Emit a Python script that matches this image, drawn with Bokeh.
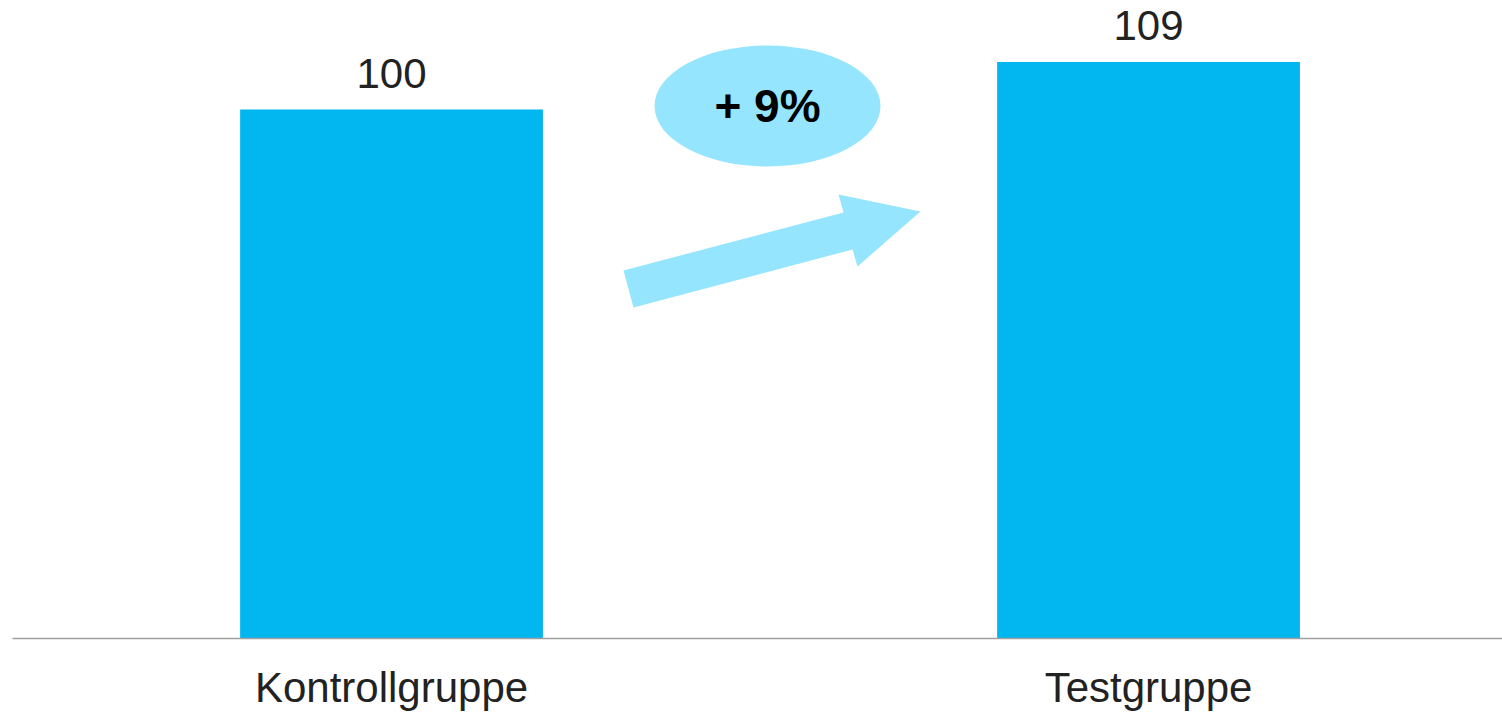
from bokeh.plotting import figure
from bokeh.models import Range1d, FixedTicker, ColumnDataSource
from bokeh.core.properties import value
from bokeh.embed import file_html
from bokeh.resources import INLINE

categories = ["Kontrollgruppe", "Testgruppe"]
values = [100, 109]
value_labels = ["100", "109"]
change_label = "+ 9%"

BAR_COLOR = "#02B6EF"
LIGHT = "#95E5FF"
FONT = "Liberation Sans"
TXT = "#222222"

W, H = 1502, 714
left, bottom = 12, 76
fw, fh = W - left, H - bottom
x0, x1 = -0.5007, -0.5007 + fw / 757.0
y0, y1 = 0, fh / 5.29

p = figure(width=W, height=H, output_backend="svg", toolbar_location=None,
           x_range=Range1d(x0, x1), y_range=Range1d(y0, y1),
           min_border_left=left, min_border_right=0, min_border_top=0,
           min_border_bottom=bottom)
p.outline_line_color = None
p.grid.visible = False
p.yaxis.visible = False
p.background_fill_color = "white"
p.border_fill_color = "white"

xs = list(range(len(categories)))
src = ColumnDataSource(dict(x=xs, top=values, lab=value_labels))
p.vbar(x="x", top="top", width=0.4, bottom=0, source=src,
       fill_color=BAR_COLOR, line_color=None)
p.text(x="x", y="top", text="lab", source=src, text_align="center",
       text_baseline="alphabetic", y_offset=-36, text_font=value(FONT),
       text_font_size="42px", text_color=TXT)

ax = p.xaxis[0]
ax.ticker = FixedTicker(ticks=xs)
ax.major_label_overrides = {i: c for i, c in enumerate(categories)}
ax.major_tick_line_color = None
ax.minor_tick_line_color = None
ax.major_tick_out = 0
ax.major_tick_in = 0
ax.axis_line_color = "#a0a0a0"
ax.axis_line_width = 1.5
ax.major_label_text_font = FONT
ax.major_label_text_font_size = "42px"
ax.major_label_text_color = TXT
ax.major_label_text_line_height = 1.0
ax.major_label_standoff = 25


def px(xp):
    return x0 + (xp - left) / fw * (x1 - x0)


def py(yp):
    return y0 + (fh - yp) / fh * (y1 - y0)


# ellipse with change label
ex, ey = px(767), py(105.5)
p.ellipse(x=[ex], y=[ey], width=[226], height=[121], width_units="screen",
          height_units="screen", fill_color=LIGHT, line_color=None)
p.text(x=[ex], y=[ey], text=[change_label], text_align="center",
       text_baseline="middle", text_font=value(FONT), text_font_size="46px",
       text_font_style="bold", text_color="black", y_offset=0)

# arrow
arrow_px = [(623, 270), (843, 212), (838, 194), (920, 211), (857, 266),
            (852, 249), (633, 307)]
p.patch(x=[px(a) for a, b in arrow_px], y=[py(b) for a, b in arrow_px],
        fill_color=LIGHT, line_color=None)

open("out.html", "w").write(file_html(p, INLINE))
